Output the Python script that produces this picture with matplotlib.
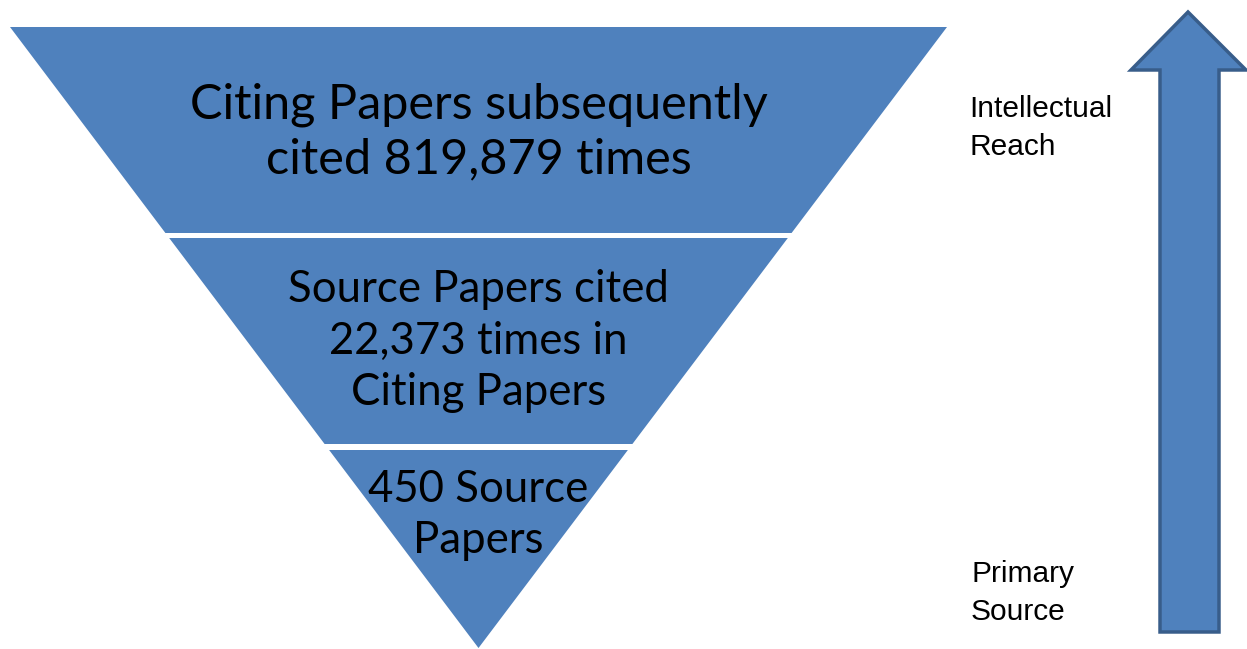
import matplotlib.pyplot as plt
from matplotlib.patches import Polygon

# funnel stages, top (widest) to bottom
stage_labels = [
    "Citing Papers subsequently\ncited 819,879 times",
    "Source Papers cited\n22,373 times in\nCiting Papers",
    "450 Source\nPapers",
]
# vertical extent of each stage (pixels from top)
stage_top = [27, 238, 450]
stage_bottom = [233, 444, 648]

side_labels = ["Intellectual\nReach", "Primary\nSource"]

fill = "#4F81BD"
edge = "#385D8A"

W, H = 1247, 649
fig = plt.figure(figsize=(W / 100, H / 100), dpi=100)
ax = fig.add_axes([0, 0, 1, 1])
ax.set_xlim(0, W)
ax.set_ylim(H, 0)
ax.axis("off")

# inverted triangle: top edge 10..947, apex at (478.5, 648)
cx, y0, y_apex, half0 = 478.5, 27, 648, 468.5


def half_width(y):
    return half0 * (y_apex - y) / (y_apex - y0)


for lab, yt, yb in zip(stage_labels, stage_top, stage_bottom):
    ht, hb = half_width(yt), half_width(yb)
    pts = [(cx - ht, yt), (cx + ht, yt), (cx + hb, yb), (cx - hb, yb)]
    ax.add_patch(Polygon(pts, closed=True, facecolor=fill, edgecolor="none"))

# labels inside the funnel
ax.text(cx, 132, stage_labels[0], ha="center", va="center", fontsize=35,
        family="Lato", linespacing=1.29)
ax.text(cx, 341, stage_labels[1], ha="center", va="center", fontsize=31.5,
        family="Lato", linespacing=1.31)
ax.text(cx, 515, stage_labels[2], ha="center", va="center", fontsize=31.5,
        family="Lato", linespacing=1.31)

# arrow on the right
arrow = [(1160, 632), (1160, 70), (1131, 70), (1188, 12), (1246, 70),
         (1219, 70), (1219, 632)]
ax.add_patch(Polygon(arrow, closed=True, facecolor=fill, edgecolor=edge,
                     linewidth=2.5, joinstyle="miter"))

ax.text(969, 128, side_labels[0], ha="left", va="center", fontsize=21.5,
        family="Liberation Sans", linespacing=1.48)
ax.text(971, 593, side_labels[1], ha="left", va="center", fontsize=21.5,
        family="Liberation Sans", linespacing=1.42)

fig.savefig("out.png", dpi=100)
